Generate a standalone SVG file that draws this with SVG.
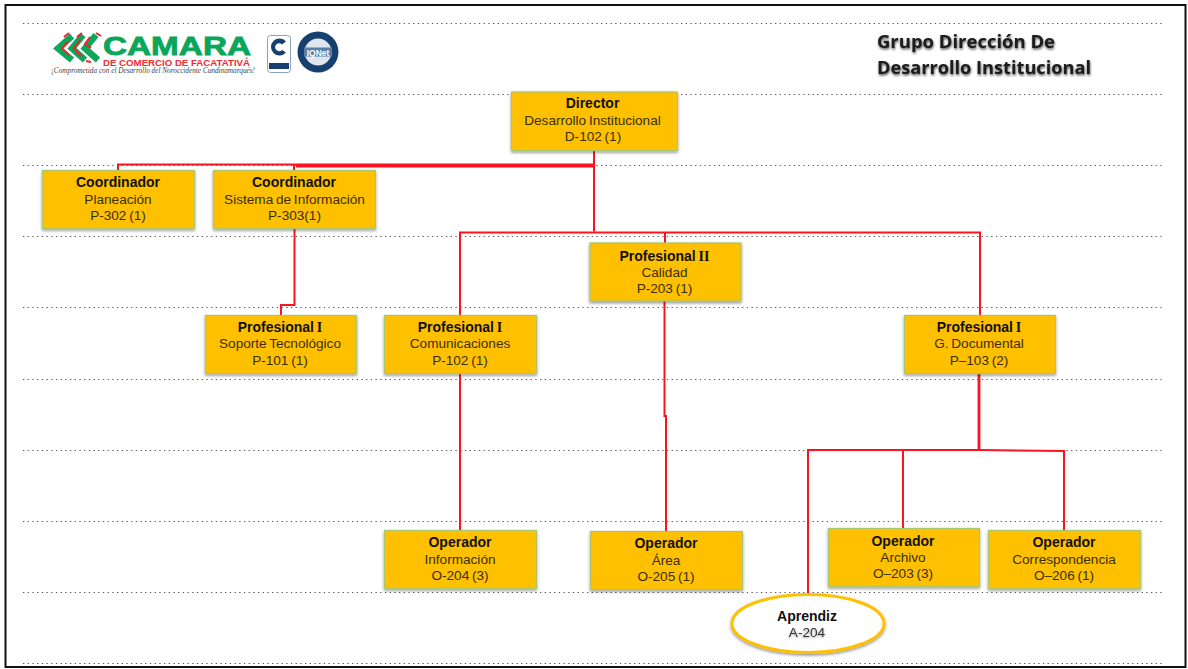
<svg xmlns="http://www.w3.org/2000/svg" width="1188" height="669" viewBox="0 0 1188 669">
<style>
.grid{stroke:#555;stroke-width:1.2;stroke-dasharray:1.3 3.4;fill:none}
.conn{fill:none;stroke:#fb1420;stroke-width:2}
.box{fill:#ffc000;stroke:#a9c56d;stroke-width:1.2;filter:url(#sh)}
text{font-family:"Liberation Sans",Arial,sans-serif;font-size:13.6px;text-anchor:middle;fill:#3a2f05;word-spacing:-1px}
.b{font-weight:bold;font-size:14px;fill:#111}
.s{font-family:"Liberation Serif",serif}
.title{font-family:"Open Sans","DejaVu Sans",sans-serif;font-size:18.2px;font-weight:bold;text-anchor:start;fill:#1a1a1a;filter:url(#ts);word-spacing:0}
.e{fill:#333;filter:url(#ts2)}
.g{fill:none;stroke:#0aa65a;stroke-width:6.500}
.r{fill:none;stroke:#f0222e;stroke-width:2}
#logo text{word-spacing:0}
</style>
<defs>
<filter id="sh" x="-5%" y="-5%" width="110%" height="115%"><feDropShadow dx="0" dy="1.5" stdDeviation="1.5" flood-color="#000" flood-opacity=".45"/></filter>
<filter id="ts" x="-5%" y="-20%" width="110%" height="150%"><feDropShadow dx="0.5" dy="1.5" stdDeviation="1.2" flood-color="#000" flood-opacity=".7"/></filter>
<filter id="ts2" x="-10%" y="-20%" width="120%" height="150%"><feDropShadow dx="0" dy="1" stdDeviation="1" flood-color="#000" flood-opacity=".4"/></filter>
</defs>
<rect x="0" y="0" width="1188" height="669" fill="#fff"/>
<rect x="5.500" y="5" width="1180" height="662" fill="#fff" stroke="#111" stroke-width="2"/>
<g id="grid">
<path class="grid" d="M23 23.500H1165M23 94.500H1165M23 165.500H1165M23 236.500H1165M23 307.500H1165M23 379.500H1165M23 450.500H1165M23 521.500H1165M23 592.500H1165M23 663.500H1165"/>
</g>
<g id="logo">
<path class="g" d="M72 36L58 48.500L72 60"/>
<path class="g" d="M83 35L72 48.500L85 60"/>
<path class="g" d="M96 35L85 48.500L98 60"/>
<path class="r" d="M68 42L62 48.500L69 55M80 40L74 48.500L81 56M90 37L85 44L91 48"/>
<path class="r" d="M69 33L64 37M82 33L77 37M96 33L101 36M86 61L91 62"/>
<text x="103" y="55" style="font-size:25.500px;font-weight:bold;text-anchor:start;fill:#0aa65a;stroke:#0aa65a;stroke-width:.8" textLength="148" lengthAdjust="spacingAndGlyphs">CAMARA</text>
<text x="103" y="66" style="font-size:8.400px;font-weight:bold;text-anchor:start;fill:#ef2b34" textLength="147" lengthAdjust="spacingAndGlyphs">DE COMERCIO DE FACATATIVÁ</text>
<text x="51" y="73" style="font-family:'Liberation Serif',serif;font-size:7.500px;font-style:italic;text-anchor:start;fill:#444" textLength="204" lengthAdjust="spacingAndGlyphs">¡Comprometida con el Desarrollo del Noroccidente Cundinamarqués!</text>
<rect x="267.500" y="35.500" width="23" height="37" rx="3" fill="#fff" stroke="#8aa0bd"/>
<path d="M286 41.500A8.500 8.500 0 1 0 286 52.500L282 50A4 4 0 1 1 282 44.500Z" fill="#17406f"/>
<rect x="269" y="63" width="20" height="6" fill="#17406f"/>
<circle cx="318" cy="52" r="20.500" fill="#17406f"/>
<circle cx="318" cy="52" r="13.500" fill="#dfe6ef"/>
<rect x="304" y="47.500" width="28" height="9" fill="#5d7ea8"/>
<text x="318" y="55.500" style="font-size:8.500px;font-weight:bold;fill:#fff">IQNet</text>
</g>
<g id="title">
<text class="title" x="877" y="48" textLength="178" lengthAdjust="spacingAndGlyphs">Grupo Dirección De</text>
<text class="title" x="877" y="73.500" textLength="214" lengthAdjust="spacingAndGlyphs">Desarrollo Institucional</text>
</g>
<g id="connectors">
<path class="conn" d="M594 151V231.500M118 170V164.500H594M294 170V164.500M296 166.500H594"/>
<path class="conn" d="M460 315V232.500H980V315M665 232.500V243"/>
<path class="conn" d="M294.500 228V305H281V315"/>
<path class="conn" d="M664.500 301V416H666V531"/>
<path class="conn" d="M460 374V530"/>
<path class="conn" style="stroke-width:2.800" d="M979 374V450.500"/>
<path class="conn" d="M808 595V450H979L1064 451V530M903 450V530"/>
</g>
<g id="n-director"><rect class="box" x="511.500" y="92" width="166" height="58.500"/><text class="b" x="592.500" y="108">Director</text><text x="592.500" y="124.500">Desarrollo Institucional</text><text x="593" y="141">D-102 (1)</text></g>
<g id="n-p302"><rect class="box" x="42.500" y="170.500" width="152" height="58"/><text class="b" x="118" y="187">Coordinador</text><text x="118" y="203.500">Planeación</text><text x="118" y="220">P-302 (1)</text></g>
<g id="n-p303"><rect class="box" x="213.500" y="170.500" width="162" height="58"/><text class="b" x="294" y="187">Coordinador</text><text x="294.500" y="203.500">Sistema de Información</text><text x="294.500" y="220">P-303(1)</text></g>
<g id="n-p203"><rect class="box" x="590" y="243" width="151" height="58"/><text class="b" x="664.500" y="260.500">Profesional <tspan class="s">II</tspan></text><text x="664.500" y="276.500">Calidad</text><text x="664.500" y="293">P-203 (1)</text></g>
<g id="n-p101"><rect class="box" x="205.500" y="315.500" width="151" height="58"/><text class="b" x="280" y="331.500">Profesional <tspan class="s">I</tspan></text><text x="280" y="348">Soporte Tecnológico</text><text x="280" y="364.500">P-101 (1)</text></g>
<g id="n-p102"><rect class="box" x="384.500" y="315.500" width="152" height="58"/><text class="b" x="460" y="331.500">Profesional <tspan class="s">I</tspan></text><text x="460" y="348">Comunicaciones</text><text x="460" y="364.500">P-102 (1)</text></g>
<g id="n-p103"><rect class="box" x="904.500" y="315.500" width="151" height="58"/><text class="b" x="979" y="331.500">Profesional <tspan class="s">I</tspan></text><text x="979" y="348">G. Documental</text><text x="979" y="364.500">P–103 (2)</text></g>
<g id="n-o204"><rect class="box" x="384.500" y="530.500" width="152" height="58"/><text class="b" x="460" y="547">Operador</text><text x="460" y="563.500">Información</text><text x="460" y="580">O-204 (3)</text></g>
<g id="n-o205"><rect class="box" x="590.500" y="531.500" width="152" height="58"/><text class="b" x="666" y="548">Operador</text><text x="666" y="564.500">Área</text><text x="666" y="581">O-205 (1)</text></g>
<g id="n-o203"><rect class="box" x="828.500" y="528.500" width="151" height="58"/><text class="b" x="903" y="545.500">Operador</text><text x="903" y="561.500">Archivo</text><text x="903" y="578">O–203 (3)</text></g>
<g id="n-o206"><rect class="box" x="988.500" y="530.500" width="152" height="58"/><text class="b" x="1064" y="547">Operador</text><text x="1064" y="563.500">Correspondencia</text><text x="1064" y="580">O–206 (1)</text></g>
<g id="n-a204"><ellipse cx="808" cy="623.500" rx="76" ry="29" fill="#fff" stroke="#ffc000" stroke-width="3" filter="url(#sh)"/><text class="b" x="807" y="620.500">Aprendiz</text><text class="e" x="807" y="636.500">A-204</text></g>
</svg>
